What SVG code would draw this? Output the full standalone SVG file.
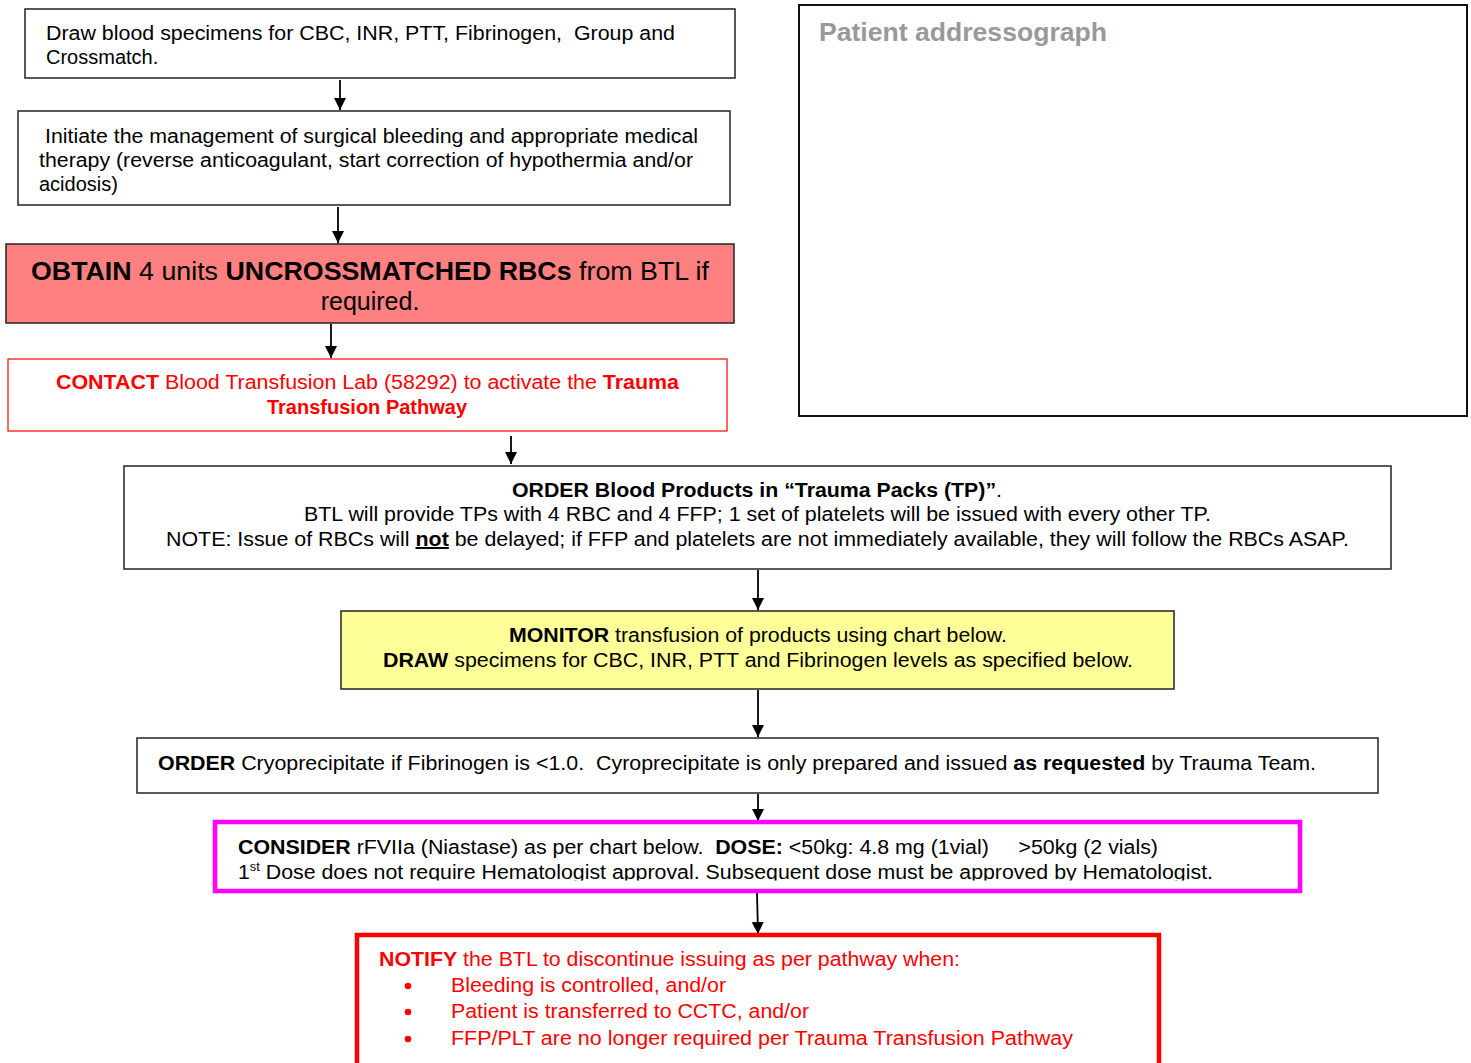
<svg xmlns="http://www.w3.org/2000/svg" width="1471" height="1063" viewBox="0 0 1471 1063">
<style>
text{font-family:"Liberation Sans",Arial,sans-serif;font-size:20px;fill:#000;white-space:pre}
.b{font-weight:bold}
.red{fill:#f00}
.box{fill:#fff;stroke:#222;stroke-width:1.5}
.conn{stroke:#000;stroke-width:1.8;fill:none;marker-end:url(#ah)}
</style>
<defs>
<marker id="ah" viewBox="0 0 12 15" refX="12" refY="6" markerWidth="12" markerHeight="15" markerUnits="userSpaceOnUse" orient="auto">
<path d="M0,0 L12,6 L0,12 Z" fill="#000" transform="translate(0,0)"/>
</marker>
<clipPath id="c8"><rect x="217" y="824" width="1081" height="56.5"/></clipPath>
</defs>
<rect width="1471" height="1063" fill="#fff"/>

<g id="connectors">
<line class="conn" x1="340" y1="80" x2="340" y2="110"/>
<line class="conn" x1="338" y1="207" x2="338" y2="243"/>
<line class="conn" x1="331" y1="324" x2="331" y2="358"/>
<line class="conn" x1="511" y1="436" x2="511" y2="464"/>
<line class="conn" x1="758" y1="570" x2="758" y2="610"/>
<line class="conn" x1="758" y1="690" x2="758" y2="737"/>
<line class="conn" x1="758" y1="794" x2="758" y2="821"/>
<line class="conn" x1="757" y1="893" x2="758" y2="934"/>
</g>

<g id="patient">
<rect x="799" y="5" width="668" height="411" fill="#fff" stroke="#111" stroke-width="2"/>
<text x="819" y="41" class="b" style="font-size:26px;fill:#999" textLength="288" lengthAdjust="spacingAndGlyphs">Patient addressograph</text>
</g>

<g id="n1">
<rect class="box" x="25" y="9" width="710" height="69"/>
<text x="46" y="40" textLength="629" lengthAdjust="spacingAndGlyphs">Draw blood specimens for CBC, INR, PTT, Fibrinogen,  Group and</text>
<text x="46" y="64">Crossmatch.</text>
</g>

<g id="n2">
<rect class="box" x="18" y="111" width="712" height="94"/>
<text x="45" y="143" textLength="653" lengthAdjust="spacingAndGlyphs">Initiate the management of surgical bleeding and appropriate medical</text>
<text x="39" y="167" textLength="654" lengthAdjust="spacingAndGlyphs">therapy (reverse anticoagulant, start correction of hypothermia and/or</text>
<text x="39" y="191">acidosis)</text>
</g>

<g id="n3">
<rect x="6" y="244" width="728" height="79" fill="#ff8080" stroke="#222" stroke-width="1.5"/>
<text x="31" y="280" style="font-size:25px" textLength="678" lengthAdjust="spacingAndGlyphs"><tspan class="b">OBTAIN</tspan> 4 units <tspan class="b">UNCROSSMATCHED RBCs</tspan> from BTL if</text>
<text x="370" y="310" style="font-size:25px" text-anchor="middle">required.</text>
</g>

<g id="n4">
<rect x="8" y="359" width="719" height="72" fill="#fff" stroke="#f00" stroke-width="1.2"/>
<text x="56" y="389" class="red" textLength="623" lengthAdjust="spacingAndGlyphs"><tspan class="b">CONTACT</tspan> Blood Transfusion Lab (58292) to activate the <tspan class="b">Trauma</tspan></text>
<text x="367" y="414" class="red b" text-anchor="middle">Transfusion Pathway</text>
</g>

<g id="n5">
<rect class="box" x="124" y="466" width="1267" height="103"/>
<text x="512" y="497" textLength="490" lengthAdjust="spacingAndGlyphs"><tspan class="b">ORDER Blood Products in “Trauma Packs (TP)”</tspan>.</text>
<text x="304" y="521" textLength="907" lengthAdjust="spacingAndGlyphs">BTL will provide TPs with 4 RBC and 4 FFP; 1 set of platelets will be issued with every other TP.</text>
<text x="166" y="546" textLength="1183" lengthAdjust="spacingAndGlyphs">NOTE: Issue of RBCs will <tspan class="b" text-decoration="underline">not</tspan> be delayed; if FFP and platelets are not immediately available, they will follow the RBCs ASAP.</text>
</g>

<g id="n6">
<rect x="341" y="611" width="833" height="78" fill="#ffff99" stroke="#222" stroke-width="1.5"/>
<text x="509" y="642" textLength="498" lengthAdjust="spacingAndGlyphs"><tspan class="b">MONITOR</tspan> transfusion of products using chart below.</text>
<text x="383" y="667" textLength="750" lengthAdjust="spacingAndGlyphs"><tspan class="b">DRAW</tspan> specimens for CBC, INR, PTT and Fibrinogen levels as specified below.</text>
</g>

<g id="n7">
<rect class="box" x="137" y="738" width="1241" height="55"/>
<text x="158" y="770" textLength="1158" lengthAdjust="spacingAndGlyphs"><tspan class="b">ORDER</tspan> Cryoprecipitate if Fibrinogen is &lt;1.0.  Cyroprecipitate is only prepared and issued <tspan class="b">as requested</tspan> by Trauma Team.</text>
</g>

<g id="n8">
<rect x="215" y="822" width="1085" height="69" fill="#fff" stroke="#f0f" stroke-width="4.5"/>
<g clip-path="url(#c8)">
<text x="238" y="854" textLength="920" lengthAdjust="spacingAndGlyphs"><tspan class="b">CONSIDER</tspan> rFVIIa (Niastase) as per chart below.  <tspan class="b">DOSE:</tspan> &lt;50kg: 4.8 mg (1vial)     &gt;50kg (2 vials)</text>
<text x="238" y="879" textLength="975" lengthAdjust="spacingAndGlyphs">1<tspan dy="-8" style="font-size:12px">st</tspan><tspan dy="8"> Dose does not require Hematologist approval. Subsequent dose must be approved by Hematologist.</tspan></text>
</g>
</g>

<g id="n9">
<rect x="357" y="935" width="802" height="140" fill="#fff" stroke="#f00" stroke-width="4.5"/>
<text x="379" y="966" class="red" textLength="581" lengthAdjust="spacingAndGlyphs"><tspan class="b">NOTIFY</tspan> the BTL to discontinue issuing as per pathway when:</text>
<circle cx="408" cy="986" r="3.3" fill="#f00"/>
<circle cx="408" cy="1012" r="3.3" fill="#f00"/>
<circle cx="408" cy="1039" r="3.3" fill="#f00"/>
<text x="451" y="992" class="red" textLength="275" lengthAdjust="spacingAndGlyphs">Bleeding is controlled, and/or</text>
<text x="451" y="1018" class="red" textLength="358" lengthAdjust="spacingAndGlyphs">Patient is transferred to CCTC, and/or</text>
<text x="451" y="1045" class="red" textLength="622" lengthAdjust="spacingAndGlyphs">FFP/PLT are no longer required per Trauma Transfusion Pathway</text>
</g>
</svg>
